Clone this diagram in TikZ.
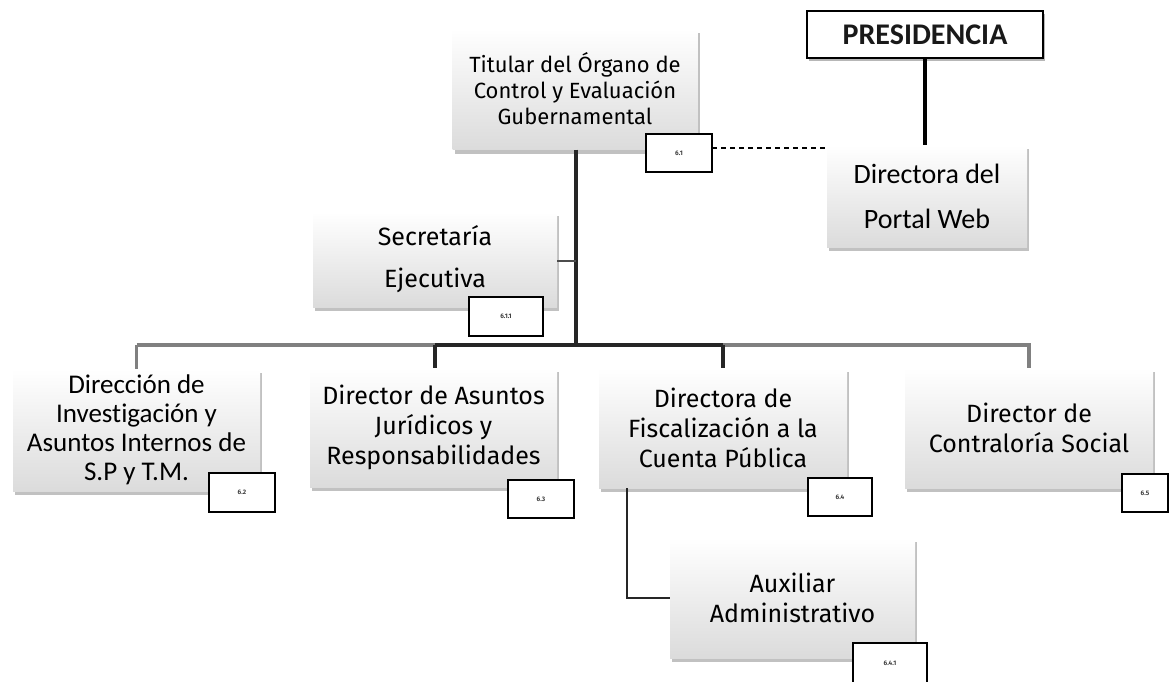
\documentclass[tikz,border=0pt]{standalone}
\usepackage{fontspec}
\setmainfont{Fira Sans}
\newfontfamily\carl{Carlito}[Ligatures=NoCommon]
\usetikzlibrary{shadows}
\begin{document}
\begin{tikzpicture}[x=1pt,y=-1pt,
  box/.style={draw=none, top color=white, bottom color=black!14, drop shadow={shadow xshift=2pt, shadow yshift=-4pt, opacity=0.35, fill=black!70},
    align=center, text=black, inner sep=0pt},
  lbl/.style={draw=black, line width=1.6pt, fill=white, font=\bfseries\fontsize{6.5}{7}\selectfont, text=black!75, inner sep=0pt},
  link/.style={line width=3.2pt, draw=black!85},
  glink/.style={line width=3.2pt, draw=black!50}
]
\useasboundingbox (0,0) rectangle (1169,681);
% boxes
\node[box, minimum width=245pt, minimum height=121pt, font=\fontsize{22}{26}\selectfont] (tit) at (575,89) {Titular del Órgano de\\Control y Evaluación\\Gubernamental};
\node[draw=black, line width=1.6pt, fill=white, minimum width=236pt, minimum height=47pt, inner sep=0pt, drop shadow={shadow xshift=2pt, shadow yshift=-3pt, opacity=0.4, fill=black!70}, font=\carl\bfseries\fontsize{30}{31}\selectfont, text=black!90] (pres) at (925,34.5) {PRESIDENCIA};
\node[box, minimum width=200pt, minimum height=102pt, font=\carl\fontsize{28}{45}\selectfont] (web) at (927,196) {Directora del\\Portal Web};
\node[box, minimum width=244pt, minimum height=95pt, font=\fontsize{25}{42}\selectfont] (sec) at (435,259.5) {Secretaría\\Ejecutiva};
\node[box, minimum width=247pt, minimum height=122pt, font=\carl\fontsize{27}{29}\selectfont] (d1) at (136.5,430) {Dirección de\\Investigación y\\Asuntos Internos de\\S.P y T.M.};
\node[box, minimum width=247pt, minimum height=119pt, font=\fontsize{25}{30}\selectfont] (d2) at (433.5,427.5) {Director de Asuntos\\Jurídicos y\\Responsabilidades};
\node[box, minimum width=248pt, minimum height=120pt, font=\fontsize{25}{30}\selectfont] (d3) at (723,428) {Directora de\\Fiscalización a la\\Cuenta Pública};
\node[box, minimum width=248pt, minimum height=120pt, font=\fontsize{25}{30}\selectfont] (d4) at (1029,428) {Director de\\Contraloría Social};
\node[box, minimum width=245pt, minimum height=120pt, font=\fontsize{25}{30}\selectfont] (aux) at (792.5,598) {Auxiliar\\Administrativo};
% number labels
\node[lbl, minimum width=66pt, minimum height=38pt] (l61) at (679,153) {6.1};
\node[lbl, minimum width=74pt, minimum height=39pt] (l611) at (506,316.5) {6.1.1};
\node[lbl, minimum width=66pt, minimum height=39pt] (l62) at (242,492.5) {6.2};
\node[lbl, minimum width=66pt, minimum height=38pt] (l63) at (541,499) {6.3};
\node[lbl, minimum width=64pt, minimum height=38pt] (l64) at (840,497) {6.4};
\node[lbl, minimum width=46pt, minimum height=38pt] (l65) at (1145,493) {6.5};
\node[lbl, minimum width=74pt, minimum height=40pt] (l641) at (890,663) {6.4.1};
% connectors
\coordinate (bus) at (576,345);
\coordinate (b1) at (138,345);
\coordinate (b4) at (1028,345);
\draw[link] (tit.south -| bus) -- (bus);
\draw[line width=2pt, draw=black!70] (sec.east |- 0,261) -- (576,261);
\draw[glink] (b1 -| d1.north) -- (b1) -- (435,345);
\draw[link] (435,345) -- (723,345);
\draw[glink] (723,345) -- (b4 -| d4.north) -- (d4.north);
\draw[glink] (b1 -| d1.north) -- (d1.north);
\draw[link] (435,345) -- (435,368);
\draw[link] (723,345) -- (723,368);
\draw[line width=2.4pt, draw=black!85] (627,488) -- (627,598) -- (aux.west);
\draw[line width=3.4pt, draw=black] (pres.south) -- (web.north -| pres.south);
\coordinate (dstart) at (712,148);
\draw[line width=1.5pt, dashed, dash pattern=on 5pt off 4pt] (dstart) -- (dstart -| web.west);
\end{tikzpicture}
\end{document}
